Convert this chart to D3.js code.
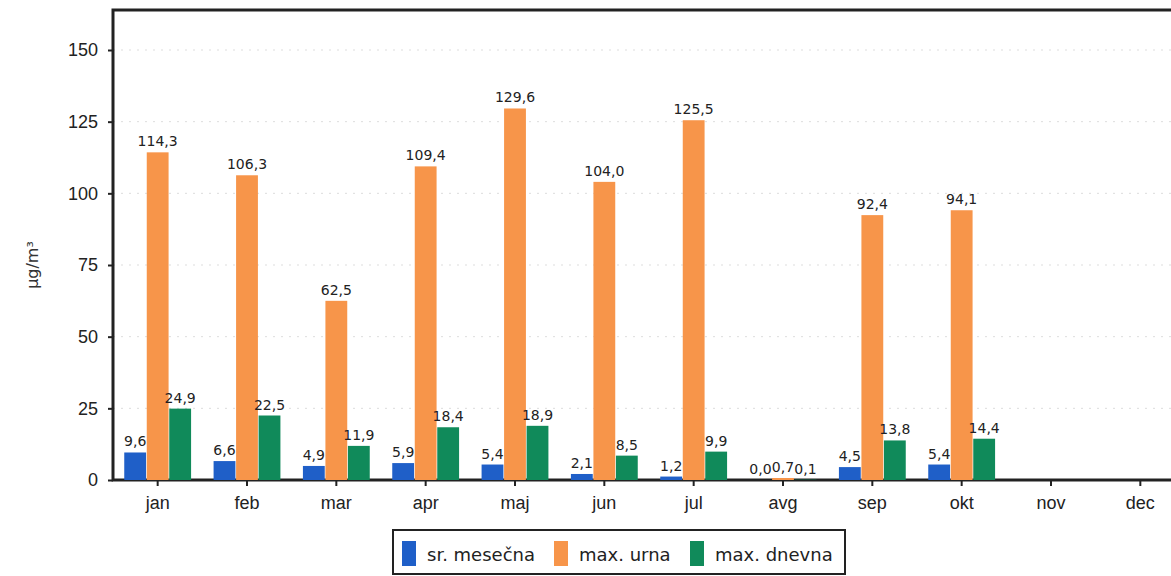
<!DOCTYPE html>
<html><head><meta charset="utf-8">
<script src="https://cdn.jsdelivr.net/npm/d3@7"></script>
<style>body{margin:0;background:#fff}svg{display:block}</style>
</head><body><div class="chart"></div>
<script>
const months = ['jan','feb','mar','apr','maj','jun','jul','avg','sep','okt','nov','dec'];
const srMesecna = [9.6,6.6,4.9,5.9,5.4,2.1,1.2,0.0,4.5,5.4,null,null];
const maxUrna = [114.3,106.3,62.5,109.4,129.6,104.0,125.5,0.7,92.4,94.1,null,null];
const maxDnevna = [24.9,22.5,11.9,18.4,18.9,8.5,9.9,0.1,13.8,14.4,null,null];
const seriesNames = ['sr. mesečna','max. urna','max. dnevna'];
const colors = ['#1f5fc8','#f7954a','#108a5a'];
const yTicks = [0,25,50,75,100,125,150];

const width = 1171, height = 576;
const mLeft = 113, mTop = 10, mBottom = 480, mRight = 1185;
const svg = d3.select('.chart').append('svg').attr('width', width).attr('height', height)
    .style('font-family', 'Tahoma, "DejaVu Sans", sans-serif');

const x = d3.scaleBand().domain(months).range([mLeft, mRight]);
const y = d3.scaleLinear().domain([0,150]).range([mBottom, 50]);
const inner = d3.scaleBand().domain([0,1,2]).range([0, x.bandwidth()]).paddingInner(0.03).paddingOuter(0.5);

// faint grid
svg.selectAll('.gy').data(yTicks.slice(1)).enter().append('line')
    .attr('x1', mLeft).attr('x2', width).attr('y1', d => y(d)).attr('y2', d => y(d))
    .attr('stroke', '#ddd').attr('stroke-dasharray', '2,6');

svg.append('rect').attr('x', mLeft).attr('y', mTop).attr('width', mRight - mLeft).attr('height', mBottom - mTop)
    .attr('fill', 'none').attr('stroke', '#222').attr('stroke-width', 3);

const yAxis = svg.append('g').attr('transform', `translate(${mLeft},0)`)
    .call(d3.axisLeft(y).tickValues(yTicks).tickSize(5).tickPadding(10));
yAxis.select('.domain').remove();
yAxis.selectAll('text').attr('font-size', 18).attr('fill', '#222');
yAxis.selectAll('line').attr('stroke', '#222').attr('stroke-width', 2);

const xAxis = svg.append('g').attr('transform', `translate(0,${mBottom})`)
    .call(d3.axisBottom(x).tickSize(6).tickPadding(10));
xAxis.select('.domain').remove();
xAxis.selectAll('text').attr('font-size', 18).attr('fill', '#222');
xAxis.selectAll('line').attr('stroke', '#222').attr('stroke-width', 2);

svg.append('text').attr('transform', `translate(38,${y(75)}) rotate(-90)`)
    .attr('text-anchor', 'middle').attr('font-size', 16).attr('fill', '#333').text('µg/m³');

const fmt = v => v.toFixed(1).replace('.', ',');
[srMesecna, maxUrna, maxDnevna].forEach((vals, s) => {
    const data = months.map((m, i) => ({m, v: vals[i]})).filter(d => d.v !== null);
    svg.selectAll('.b' + s).data(data).enter().append('rect')
        .attr('x', d => x(d.m) + inner(s)).attr('width', inner.bandwidth())
        .attr('y', d => y(d.v)).attr('height', d => mBottom - y(d.v))
        .attr('fill', colors[s]);
    svg.selectAll('.t' + s).data(data).enter().append('text')
        .attr('x', d => x(d.m) + inner(s) + inner.bandwidth() / 2)
        .attr('y', d => y(d.v) - 6)
        .attr('text-anchor', 'middle').attr('font-size', 14).attr('fill', '#222')
        .text(d => fmt(d.v));
});

// legend
const lg = svg.append('g');
lg.append('rect').attr('x', 393).attr('y', 530).attr('width', 452).attr('height', 44)
    .attr('fill', '#fff').attr('stroke', '#222').attr('stroke-width', 2);
const lx = [402, 554, 690];
seriesNames.forEach((n, i) => {
    lg.append('rect').attr('x', lx[i]).attr('y', 541).attr('width', 14).attr('height', 25).attr('fill', colors[i]);
    lg.append('text').attr('x', lx[i] + 25).attr('y', 561).attr('font-size', 18).attr('fill', '#222').text(n);
});
</script></body></html>
